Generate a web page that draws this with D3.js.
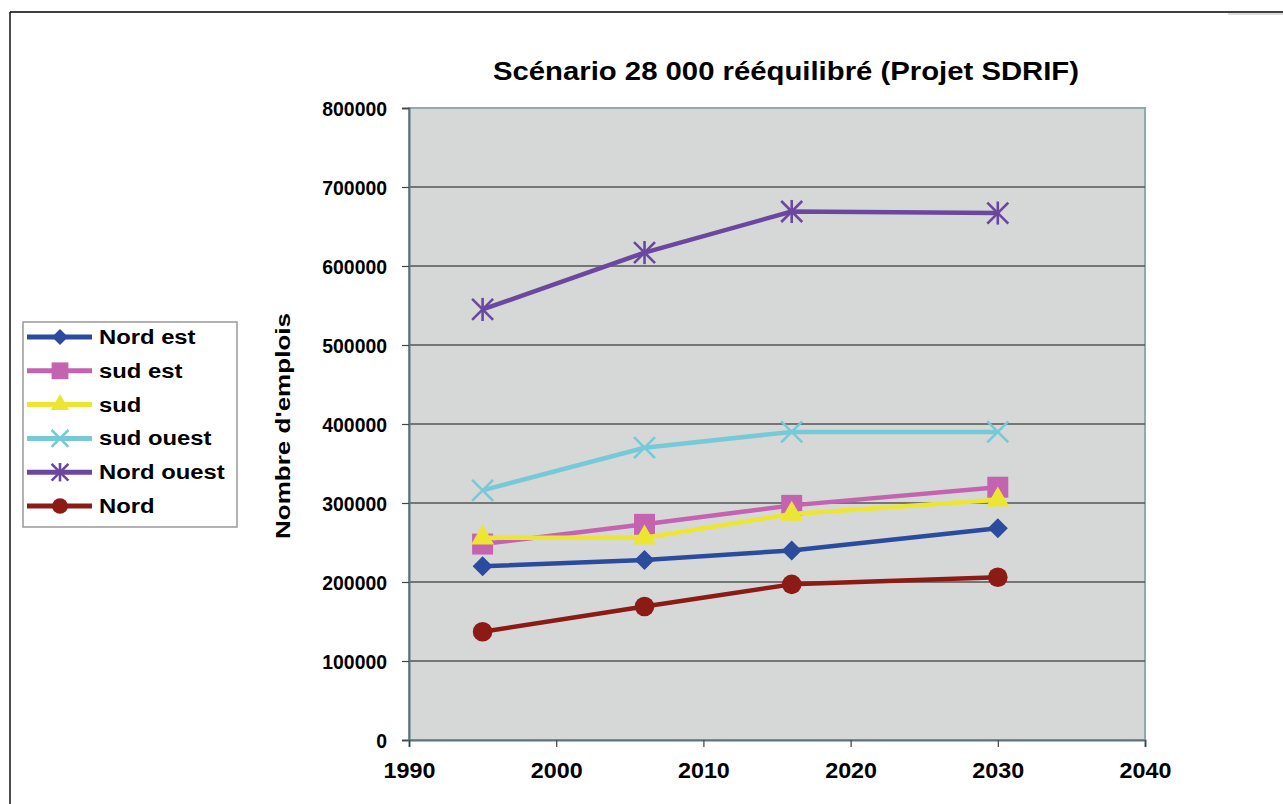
<!DOCTYPE html>
<html><head><meta charset="utf-8">
<script src="https://cdn.jsdelivr.net/npm/d3@7"></script>
<style>
body{margin:0;background:#fff}
svg{display:block}
text{font-family:"Liberation Sans",Arial,Helvetica,sans-serif;font-weight:bold;fill:#000}
</style>
</head><body>
<svg id="c" width="1283" height="804"></svg>
<script>
// ---- data ----
const years = [1995, 2006, 2016, 2030];
const seriesNames = ["Nord est", "sud est", "sud", "sud ouest", "Nord ouest", "Nord"];
const nordEst   = [220000, 228000, 240000, 268000];
const sudEst    = [248000, 273000, 297000, 320000];
const sud       = [256000, 256000, 286000, 304000];
const sudOuest  = [316000, 370000, 390000, 390000];
const nordOuest = [545000, 617000, 669000, 667000];
const nord      = [137000, 169000, 197000, 206000];
const xTicks = [1990, 2000, 2010, 2020, 2030, 2040];
const yTicks = [0, 100000, 200000, 300000, 400000, 500000, 600000, 700000, 800000];
const titleText = "Scénario 28 000 rééquilibré (Projet SDRIF)";
const yTitleText = "Nombre d'emplois";

// ---- styles ----
const seriesValues = [nordEst, sudEst, sud, sudOuest, nordOuest, nord];
const colors = ["#2b4b9f", "#c463b0", "#ece633", "#76cad8", "#6b47a0", "#8c1a15"];
const markers = ["diamond", "square", "triangle", "x", "star", "circle"];

const svg = d3.select("#c");

// page frame
svg.append("line").attr("x1", 10).attr("x2", 1283).attr("y1", 12).attr("y2", 12)
  .attr("stroke", "#000").attr("stroke-width", 1.6);
svg.append("line").attr("x1", 1228).attr("x2", 1283).attr("y1", 14).attr("y2", 14)
  .attr("stroke", "#bbb").attr("stroke-width", 1);
svg.append("line").attr("x1", 10).attr("x2", 10).attr("y1", 12).attr("y2", 804)
  .attr("stroke", "#000").attr("stroke-width", 1.4);

const x = d3.scaleLinear().domain([1990, 2040]).range([409, 1145]);
const y = d3.scaleLinear().domain([0, 800000]).range([740, 108]);

// plot area
svg.append("rect").attr("x", x(1990)).attr("y", y(800000))
  .attr("width", x(2040) - x(1990)).attr("height", y(0) - y(800000))
  .attr("fill", "#d6d8d7").attr("stroke", "#8fa9af").attr("stroke-width", 2);

// gridlines
svg.append("g").selectAll("line").data(yTicks.filter(d => d > 0 && d < 800000)).join("line")
  .attr("x1", x(1990)).attr("x2", x(2040))
  .attr("y1", d => y(d)).attr("y2", d => y(d))
  .attr("stroke", "#555").attr("stroke-width", 1.5);

// axes
const yAxis = svg.append("g").attr("transform", `translate(${x(1990)},0)`)
  .call(d3.axisLeft(y).tickValues(yTicks).tickFormat(d3.format("d")).tickSize(7).tickPadding(15));
const xAxis = svg.append("g").attr("transform", `translate(0,${y(0)})`)
  .call(d3.axisBottom(x).tickValues(xTicks).tickFormat(d3.format("d")).tickSize(7).tickPadding(14));
[yAxis, xAxis].forEach(a => {
  a.select(".domain").attr("stroke", "#5d7378").attr("stroke-width", 2);
  a.selectAll(".tick line").attr("stroke", "#444").attr("stroke-width", 1.2);
});
yAxis.selectAll("text").attr("font-size", 20).attr("dy", "0.35em")
  .each(function () {
    const w = this.getComputedTextLength();
    d3.select(this).attr("textLength", w * 0.97).attr("lengthAdjust", "spacingAndGlyphs");
  });
xAxis.selectAll("text").attr("font-size", 22).attr("dy", "0.75em")
  .each(function () {
    const w = this.getComputedTextLength();
    d3.select(this).attr("textLength", w * 1.06).attr("lengthAdjust", "spacingAndGlyphs");
  });

// marker drawing
function drawMarker(g, type, color, s) {
  if (type === "diamond") {
    g.append("path").attr("d", d3.symbol(d3.symbolSquare, 200 * s * s)())
      .attr("transform", "rotate(45)").attr("fill", color);
  } else if (type === "square") {
    g.append("path").attr("d", d3.symbol(d3.symbolSquare, 440 * s * s)()).attr("fill", color);
  } else if (type === "triangle") {
    g.append("path").attr("d", d3.symbol(d3.symbolTriangle, 230 * s * s)()).attr("fill", color);
  } else if (type === "circle") {
    g.append("circle").attr("r", 9.8 * s).attr("fill", color);
  } else if (type === "x" || type === "star") {
    const r = 10.5 * s;
    const segs = [[-r, -r, r, r], [-r, r, r, -r]];
    if (type === "star") segs.push([0, -r * 1.1, 0, r * 1.1]);
    segs.forEach(q => g.append("line").attr("x1", q[0]).attr("y1", q[1]).attr("x2", q[2]).attr("y2", q[3])
      .attr("stroke", color).attr("stroke-width", 2.6));
  }
}

// series
const line = d3.line().x((d, i) => x(years[i])).y(d => y(d));
seriesNames.forEach((name, si) => {
  const g = svg.append("g");
  g.append("path").datum(seriesValues[si]).attr("d", line)
    .attr("fill", "none").attr("stroke", colors[si]).attr("stroke-width", 4.5)
    .attr("stroke-linejoin", "round");
  seriesValues[si].forEach((v, i) => {
    const mg = g.append("g").attr("transform", `translate(${x(years[i])},${y(v)})`);
    drawMarker(mg, markers[si], colors[si], 1);
  });
});

// title
svg.append("text").attr("x", 786).attr("y", 80).attr("text-anchor", "middle")
  .attr("font-size", 25).attr("textLength", 586).attr("lengthAdjust", "spacingAndGlyphs")
  .text(titleText);

// y title
svg.append("text").attr("transform", "translate(290,426) rotate(-90)").attr("text-anchor", "middle")
  .attr("font-size", 21).attr("textLength", 226).attr("lengthAdjust", "spacingAndGlyphs")
  .text(yTitleText);

// legend
const leg = svg.append("g");
leg.append("rect").attr("x", 23).attr("y", 322).attr("width", 214).attr("height", 205)
  .attr("fill", "#fff").attr("stroke", "#999").attr("stroke-width", 1.5);
seriesNames.forEach((name, si) => {
  const cy = 337 + si * 33.8;
  const g = leg.append("g");
  g.append("line").attr("x1", 27).attr("x2", 92).attr("y1", cy).attr("y2", cy)
    .attr("stroke", colors[si]).attr("stroke-width", 5);
  const mg = g.append("g").attr("transform", `translate(60,${cy})`);
  drawMarker(mg, markers[si], colors[si], 0.8);
  const t = g.append("text").attr("x", 99).attr("y", cy).attr("dy", "0.35em")
    .attr("font-size", 20).text(name);
  const w = t.node().getComputedTextLength();
  t.attr("textLength", w * 1.19).attr("lengthAdjust", "spacingAndGlyphs");
});
</script>
</body></html>
